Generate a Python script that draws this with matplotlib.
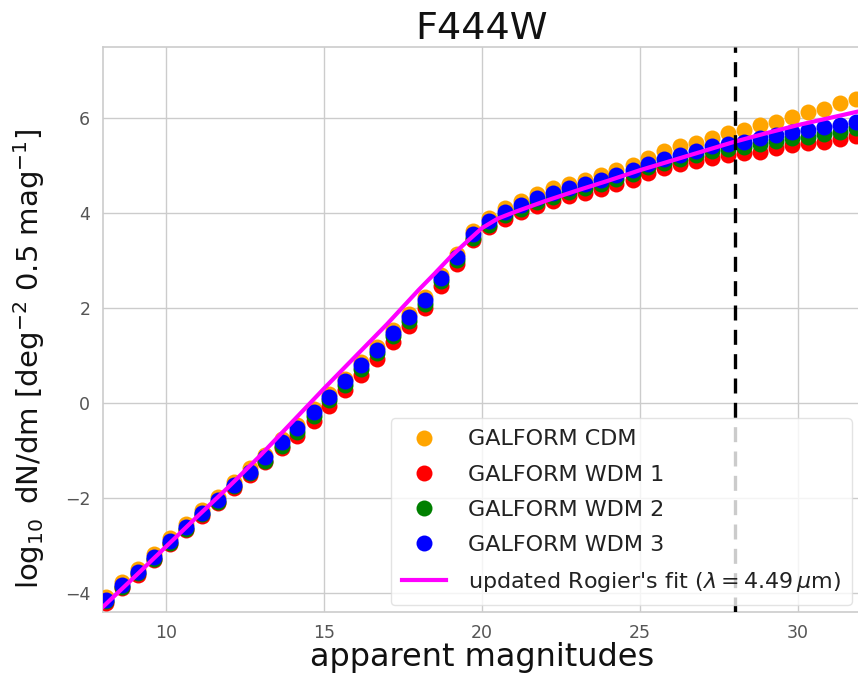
import matplotlib
matplotlib.use("Agg")
import matplotlib.pyplot as plt

plt.rcParams['font.family'] = ['DejaVu Sans']
plt.rcParams['mathtext.fontset'] = 'dejavusans'

# ---- data ----
mags = [8.10, 8.61, 9.11, 9.62, 10.12, 10.63, 11.13, 11.64, 12.14, 12.65,
        13.15, 13.66, 14.16, 14.67, 15.17, 15.68, 16.18, 16.69, 17.19, 17.70,
        18.20, 18.71, 19.21, 19.72, 20.22, 20.73, 21.23, 21.74, 22.24, 22.75,
        23.25, 23.76, 24.26, 24.77, 25.27, 25.78, 26.28, 26.79, 27.29, 27.80,
        28.30, 28.81, 29.31, 29.82, 30.32, 30.83, 31.33, 31.84]

cdm = [-4.08, -3.77, -3.49, -3.18, -2.85, -2.55, -2.25, -1.98, -1.66, -1.38,
       -1.09, -0.76, -0.47, -0.14, 0.19, 0.51, 0.85, 1.18, 1.54, 1.87,
       2.23, 2.69, 3.13, 3.63, 3.90, 4.11, 4.26, 4.40, 4.52, 4.62,
       4.70, 4.80, 4.91, 5.01, 5.15, 5.30, 5.40, 5.47, 5.57, 5.69,
       5.75, 5.85, 5.92, 6.03, 6.13, 6.20, 6.31, 6.41]

wdm1 = [-4.21, -3.90, -3.62, -3.31, -2.98, -2.68, -2.38, -2.11, -1.79, -1.51,
        -1.25, -0.96, -0.70, -0.38, -0.07, 0.26, 0.59, 0.93, 1.29, 1.62,
        1.99, 2.47, 2.93, 3.42, 3.70, 3.88, 4.01, 4.14, 4.25, 4.35,
        4.43, 4.51, 4.61, 4.70, 4.85, 4.95, 5.03, 5.10, 5.16, 5.22,
        5.26, 5.29, 5.36, 5.43, 5.47, 5.50, 5.55, 5.62]

wdm2 = [-4.18, -3.87, -3.59, -3.28, -2.95, -2.65, -2.35, -2.08, -1.76, -1.48,
        -1.22, -0.90, -0.61, -0.28, 0.05, 0.37, 0.71, 1.04, 1.40, 1.73,
        2.09, 2.56, 3.00, 3.48, 3.75, 3.95, 4.09, 4.23, 4.34, 4.44,
        4.52, 4.61, 4.72, 4.82, 4.96, 5.06, 5.14, 5.22, 5.30, 5.35,
        5.39, 5.45, 5.51, 5.57, 5.61, 5.66, 5.71, 5.78]

wdm3 = [-4.15, -3.84, -3.56, -3.25, -2.92, -2.62, -2.32, -2.05, -1.73, -1.45,
        -1.15, -0.82, -0.53, -0.20, 0.13, 0.45, 0.79, 1.12, 1.48, 1.81,
        2.17, 2.63, 3.07, 3.55, 3.82, 4.03, 4.17, 4.31, 4.42, 4.52,
        4.60, 4.69, 4.80, 4.90, 5.03, 5.13, 5.22, 5.31, 5.40, 5.45,
        5.50, 5.57, 5.64, 5.71, 5.75, 5.80, 5.85, 5.92]

fit_mag = [8.0, 9.0, 10.0, 11.0, 12.0, 13.0, 14.0, 15.0, 16.0, 17.0, 18.0,
           18.5, 19.0, 19.5, 20.0, 20.5, 21.0, 22.0, 23.0, 24.0, 25.0, 26.0,
           27.0, 28.0, 29.0, 30.0, 31.0, 32.0]
fit_val = [-4.30, -3.67, -3.03, -2.39, -1.76, -1.10, -0.40, 0.30, 0.98, 1.66, 2.38,
           2.72, 3.07, 3.38, 3.68, 3.88, 4.01, 4.25, 4.47, 4.68, 4.90, 5.10,
           5.30, 5.50, 5.68, 5.85, 6.00, 6.15]

labels = ["GALFORM CDM", "GALFORM WDM 1", "GALFORM WDM 2", "GALFORM WDM 3"]
fit_label = r"updated Rogier's fit ($\lambda = 4.49\,\mu$m)"
cut_mag = 28.0
xticks = [10, 15, 20, 25, 30]
yticks = [-4, -2, 0, 2, 4, 6]

# ---- figure ----
fig = plt.figure(figsize=(8.58, 6.80), dpi=100)
ax = fig.add_axes([0.1198, 0.1004, 0.8837, 0.8308])
ax.set_facecolor('white')

colors = ['orange', 'red', 'green', 'blue']
for series, lab, col in zip([cdm, wdm1, wdm2, wdm3], labels, colors):
    ax.plot(mags, series, 'o', color=col, markersize=11.5, markeredgewidth=0,
            label=lab, zorder=3)

ax.plot(fit_mag, fit_val, '-', color='magenta', lw=3.0, label=fit_label, zorder=4)
ax.axvline(cut_mag, color='black', ls=(0, (4.5, 2.8)), lw=2.4, zorder=4.5)

ax.set_xlim(8, 32)
ax.set_ylim(-4.4, 7.5)
ax.set_xticks(xticks)
ax.set_yticks(yticks)
ax.set_yticklabels(['\u2212' + str(abs(t)) if t < 0 else str(t) for t in yticks])

ax.grid(True, color='#cccccc', lw=1.0, zorder=0)
ax.set_axisbelow(True)
for s in ax.spines.values():
    s.set_color('#cccccc')
    s.set_linewidth(1.2)
ax.tick_params(length=0, labelsize=12.5, labelcolor='#555555', pad=9)

ax.set_title('F444W', fontsize=27.5, color='#111111', pad=5)
ax.set_xlabel('apparent magnitudes', fontsize=23, color='#111111', labelpad=0)
ax.set_ylabel(r'$\log_{10}$ dN/dm [deg$^{-2}$ 0.5 mag$^{-1}$]', fontsize=21,
              color='#111111')
ax.yaxis.set_label_coords(-0.073, 0.447)

leg = ax.legend(loc='lower right', bbox_to_anchor=(0.988, 0.012), borderaxespad=0,
                fontsize=16, frameon=True, framealpha=0.8, edgecolor='#dddddd',
                handlelength=2.0, handletextpad=0.95, labelspacing=0.68,
                borderpad=0.5)
leg.get_frame().set_linewidth(1.0)
for t in leg.get_texts():
    t.set_color('#222222')

fig.savefig('out.png', dpi=100, facecolor='white')
